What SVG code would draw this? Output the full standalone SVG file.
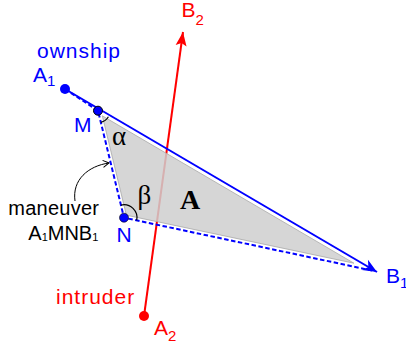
<svg xmlns="http://www.w3.org/2000/svg" width="406" height="347" viewBox="0 0 406 347">
<style>
.blue{fill:#0000ff}
.red{fill:#ff0000}
text{font-family:"Liberation Sans",Arial,sans-serif;font-size:21px}
.sub{font-size:15px}
.greek{font-family:"Liberation Serif","Times New Roman",serif;font-size:27px;fill:#000}
.solid{stroke:#0000ff;stroke-width:2;fill:none}
.dash{stroke:#0000ff;stroke-width:2;fill:none;stroke-dasharray:4.5 2.5}
</style>
<defs>
<marker id="arrB" markerUnits="userSpaceOnUse" viewBox="-15 -7 16 14" refX="0" refY="0" markerWidth="16" markerHeight="14" orient="auto">
<path d="M0,0 L-14,-6 L-10,0 L-14,6 Z" fill="#0000ff"/>
</marker>
<marker id="arrR" markerUnits="userSpaceOnUse" viewBox="-15 -7 16 14" refX="0" refY="0" markerWidth="16" markerHeight="14" orient="auto">
<path d="M0,0 L-14,-5.5 L-11,0 L-14,5.5 Z" fill="#ff0000"/>
</marker>
<marker id="arrK" markerUnits="userSpaceOnUse" viewBox="-8 -5 9 10" refX="0" refY="0" markerWidth="9" markerHeight="10" orient="auto">
<path d="M-6,-3.5 L0,0 L-6,3.5" fill="none" stroke="#000" stroke-width="1"/>
</marker>
</defs>
<g id="connectors">
<path id="intruder-path" d="M144,316 L183,32" stroke="#ff0000" stroke-width="2" fill="none" marker-end="url(#arrR)"/>
<polygon id="area-A" points="102.3,115.8 126.4,215.2 353.9,263.2" fill="#cfcfcf" fill-opacity="0.85" stroke="#a8a8a8" stroke-width="0.8"/>
<path id="direct-path" class="solid" d="M65,89 L377,272" marker-end="url(#arrB)"/>
<path id="maneuver-path" class="dash" d="M65,89 L98,110.7 L124,217.7 L372,270.5"/>
<path id="pointer" d="M75,201 C72,180 88,166 109,163" stroke="#000" stroke-width="1" fill="none" marker-end="url(#arrK)"/>
<path id="alpha-arc" d="M108.4,116.8 A12,12 0 0 1 100.8,122.4" stroke="#000" stroke-width="1.2" fill="none"/>
<path id="beta-arc" d="M120.9,205.1 A13,13 0 0 1 136.7,220.4" stroke="#000" stroke-width="1.2" fill="none"/>
</g>
<g id="A1">
<circle cx="65" cy="89" r="5" class="blue"/>
<text x="33" y="81.7" class="blue">A<tspan class="sub" dy="3.8">1</tspan></text>
<text x="37" y="57.5" class="blue" letter-spacing="1">ownship</text>
</g>
<g id="M">
<circle cx="98" cy="110.7" r="4.5" class="blue" stroke="#000" stroke-width="1"/>
<text x="74" y="131.5" class="blue">M</text>
</g>
<g id="N">
<circle cx="124" cy="217.7" r="4.5" class="blue" stroke="#000" stroke-width="0.6"/>
<text x="116.5" y="242" class="blue">N</text>
</g>
<g id="B1">
<text x="386" y="283" class="blue">B<tspan class="sub" dy="5">1</tspan></text>
</g>
<g id="A2">
<circle cx="144" cy="316" r="5" class="red"/>
<text x="154" y="335" class="red">A<tspan class="sub" dy="6">2</tspan></text>
<text x="56" y="304.3" class="red" letter-spacing="1">intruder</text>
</g>
<g id="B2">
<text x="181.5" y="16.7" class="red">B<tspan class="sub" dy="8">2</tspan></text>
</g>
<g id="maneuver-label">
<text x="8.3" y="215" style="font-size:20px" letter-spacing="0.25">maneuver</text>
<text x="28.3" y="240" style="font-size:20px">A<tspan style="font-size:11px" dy="1">1</tspan><tspan dy="-1">MNB</tspan><tspan style="font-size:11px" dy="1">1</tspan></text>
</g>
<g id="angles">
<text x="112" y="145" class="greek">α</text>
<text x="137.5" y="204" class="greek">β</text>
<text x="180" y="208.5" style="font-family:'Liberation Serif','Times New Roman',serif;font-size:28px;font-weight:bold">A</text>
</g>
</svg>
